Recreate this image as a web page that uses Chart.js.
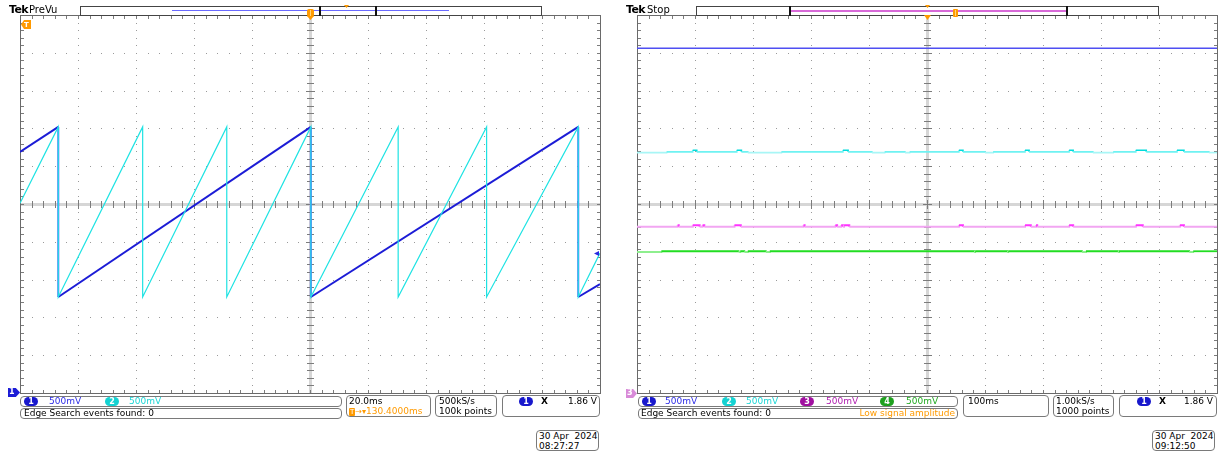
<!DOCTYPE html>
<html>
<head>
<meta charset="utf-8">
<script src="https://cdn.jsdelivr.net/npm/chart.js@4.4.1/dist/chart.umd.min.js"></script>
<style>
  html,body{margin:0;padding:0;background:#fff;}
  body{width:1219px;height:452px;position:relative;overflow:hidden;font-family:"DejaVu Sans",sans-serif;font-size:9px;color:#000;}
  canvas{position:absolute;}
  .box{position:absolute;border:1px solid #7a7a7a;border-radius:4px;box-sizing:border-box;}
  .t{position:absolute;white-space:nowrap;line-height:10px;}
  .pill{position:absolute;border-radius:5px;color:#fff;text-align:center;font-size:8px;line-height:9px;height:9px;width:14px;font-weight:bold;}
  .hl{position:absolute;}
  .tek{position:absolute;font-weight:bold;font-size:11px;letter-spacing:-0.6px;line-height:11px;}
  .mode{position:absolute;font-size:10px;line-height:11px;}
</style>
</head>
<body>
<canvas id="leftScope" width="588" height="386" style="left:16px;top:11px;"></canvas>
<canvas id="rightScope" width="588" height="386" style="left:633px;top:11px;"></canvas>

<script>
// ---------------- DATA ----------------
// Left capture: 20.0 ms/div, 500 mV/div, time in ms, value in V (screen position)
const leftTimeRange = [-100, 100];
const ch1LeftTime = [-100, -86.8, -86.8, 0.3, 0.3, 92.5, 92.5, 100];
const ch1LeftVolt = [0.69, 1.02, -1.23, 1.02, -1.23, 1.02, -1.23, -1.06];
const ch2LeftTime = [-100, -86.8, -86.8, -57.7, -57.7, -28.7, -28.7, 0.3, 0.3, 30.4, 30.4, 60.9, 60.9, 92.5, 92.5, 100];
const ch2LeftVolt = [0.01, 1.02, -1.23, 1.02, -1.23, 1.02, -1.23, 1.02, -1.23, 1.02, -1.23, 1.02, -1.23, 1.02, -1.23, -0.65];

// Right capture: 100 ms/div, 500 mV/div (stepped levels)
const rightTimeRange = [-500, 500];
const ch1RightTime = [-500, 500];
const ch1RightVolt = [2.06, 2.06];
const ch2RightTime = [-500, -449, -404, -397, -328, -320, -309, -251, -145, -136, -95, -73, -38, -30, 55, 62, 100, 114, 169, 176, 245, 252, 286, 321, 360, 378, 431, 443, 486, 500];
const ch2RightVolt = [0.68, 0.69, 0.71, 0.69, 0.71, 0.69, 0.68, 0.69, 0.71, 0.69, 0.68, 0.69, 0.68, 0.69, 0.71, 0.69, 0.68, 0.69, 0.71, 0.69, 0.71, 0.69, 0.68, 0.69, 0.71, 0.69, 0.71, 0.69, 0.68, 0.68];
const ch3RightTime = [-500, -430, -428, -404, -392, -387, -384, -332, -321, -213, -211, -158, -155, -148, -145, -143, -134, 55, 62, 169, 179, 188, 190, 245, 252, 360, 372, 436, 443, 500];
const ch3RightVolt = [-0.30, -0.28, -0.30, -0.28, -0.30, -0.28, -0.30, -0.28, -0.30, -0.28, -0.30, -0.28, -0.30, -0.28, -0.30, -0.28, -0.30, -0.28, -0.30, -0.28, -0.30, -0.28, -0.30, -0.28, -0.30, -0.28, -0.30, -0.28, -0.30, -0.30];
const ch4RightTime = [-500, -458, -325, -322, -315, -309, -278, -271, 81, 83, 138, 140, 267, 274, 329, 331, 452, 459, 500];
const ch4RightVolt = [-0.635, -0.625, -0.635, -0.625, -0.635, -0.625, -0.635, -0.625, -0.635, -0.625, -0.635, -0.625, -0.635, -0.625, -0.635, -0.625, -0.635, -0.625, -0.625];

const voltRange = [-2.5, 2.5];
const PAD = 4;

function pts(xs, ys){ return xs.map((x,i)=>({x:x, y:ys[i]})); }

// ---------------- GRATICULE ----------------
const graticule = {
  id:'graticule',
  beforeDatasetsDraw(chart){
    const ctx = chart.ctx, a = chart.chartArea;
    const L = Math.round(a.left), T = Math.round(a.top);
    const W = Math.round(a.right - a.left), H = Math.round(a.bottom - a.top);
    const dx = W/10, dy = H/10;
    const cx = Math.round(L + W/2), cy = Math.round(T + H/2);
    ctx.save();
    ctx.fillStyle = '#d6d6d6';
    ctx.fillRect(cx-1, T, 3, H);
    ctx.fillRect(L, cy-1, W, 3);
    ctx.fillStyle = '#9a9a9a';
    for (let i=1;i<10;i++){
      if (i===5) continue;
      const x = Math.round(L + i*dx);
      for (let j=1;j<50;j++) ctx.fillRect(x, Math.round(T + j*dy/5), 1, 1);
      const y = Math.round(T + i*dy);
      for (let j=1;j<50;j++) ctx.fillRect(Math.round(L + j*dx/5), y, 1, 1);
    }
    ctx.fillStyle = '#7c7c7c';
    for (let j=1;j<50;j++){
      const x = Math.round(L + j*dx/5), y = Math.round(T + j*dy/5);
      const big = (j%5===0);
      ctx.fillRect(x, cy-(big?4:3), 1, big?9:7);
      ctx.fillRect(cx-(big?4:3), y, big?9:7, 1);
      ctx.fillRect(x, T+1, 1, 3);
      ctx.fillRect(x, T+H-3, 1, 3);
      ctx.fillRect(L+1, y, 3, 1);
      ctx.fillRect(L+W-3, y, 3, 1);
    }
    ctx.strokeStyle = '#6a6a6a';
    ctx.lineWidth = 1;
    ctx.strokeRect(L+0.5, T+0.5, W, H);
    ctx.restore();
  }
};

function makeChart(id, datasets, xr){
  return new Chart(document.getElementById(id), {
    type:'line',
    data:{datasets:datasets},
    options:{
      responsive:false, animation:false, devicePixelRatio:1, events:[],
      layout:{padding:PAD},
      plugins:{legend:{display:false}, tooltip:{enabled:false}},
      scales:{
        x:{type:'linear', min:xr[0], max:xr[1], display:false},
        y:{type:'linear', min:voltRange[0], max:voltRange[1], display:false}
      },
      elements:{point:{radius:0}, line:{tension:0}}
    },
    plugins:[graticule]
  });
}

makeChart('leftScope', [
  { data:pts(ch2LeftTime, ch2LeftVolt), borderColor:'#1ee3e3', borderWidth:1.2 },
  { data:pts(ch1LeftTime, ch1LeftVolt), borderColor:'#1c1cd6', borderWidth:2,
    segment:{ borderColor: c => c.p0.parsed.x === c.p1.parsed.x ? '#6262ff' : undefined } }
], leftTimeRange);

makeChart('rightScope', [
  { data:pts(ch1RightTime, ch1RightVolt), borderColor:'#4f4ff2', borderWidth:1.3 },
  { data:pts(ch2RightTime, ch2RightVolt), borderColor:'#6ff2f2', borderWidth:1.6, stepped:true,
    segment:{ borderColor: c => c.p0.parsed.y > 0.695 ? '#00dcdc' : (c.p0.parsed.y < 0.685 ? '#a8f6f6' : undefined) } },
  { data:pts(ch3RightTime, ch3RightVolt), borderColor:'#f2a6f2', borderWidth:2, stepped:true,
    segment:{ borderColor: c => c.p0.parsed.y > -0.29 ? '#ff33ff' : undefined } },
  { data:pts(ch4RightTime, ch4RightVolt), borderColor:'#22dd22', borderWidth:1.8, stepped:true,
    segment:{ borderColor: c => c.p0.parsed.y < -0.63 ? '#8eef8e' : undefined } }
], rightTimeRange);
</script>

<!-- ============ LEFT SCREEN DECORATION ============ -->
<div class="tek" style="left:9px;top:4px;">Tek</div>
<div class="mode" style="left:29px;top:4px;">PreVu</div>
<div class="hl" style="left:80px;top:6px;width:462px;height:10px;border:1px solid #444;box-sizing:border-box;"></div>
<div class="hl" style="left:172px;top:10px;width:277px;height:1px;background:#6a6aff;"></div>
<div class="hl" style="left:319px;top:6px;width:2px;height:10px;background:#111;"></div>
<div class="hl" style="left:375px;top:6px;width:2px;height:10px;background:#111;"></div>
<div class="hl" style="left:344px;top:5px;width:5px;height:3px;background:#ff9a00;clip-path:polygon(0 0,100% 0,50% 100%);"></div>
<div class="hl" style="left:307px;top:9px;width:7px;height:8px;background:#ff9a00;border-radius:2px;"></div>
<div class="hl" style="left:310px;top:10px;width:1px;height:6px;background:#ffd27a;"></div>
<div class="hl" style="left:307px;top:16px;width:7px;height:4px;background:#ff9a00;clip-path:polygon(0 0,100% 0,50% 100%);"></div>
<!-- trigger level marker -->
<div class="hl" style="left:21px;top:20px;width:10px;height:9px;background:#ff9a00;clip-path:polygon(0 50%,30% 0,100% 0,100% 100%,30% 100%);"></div>
<div class="t" style="left:24px;top:19.5px;color:#fff;font-size:7px;font-weight:bold;">T</div>
<!-- ch1 marker -->
<div class="hl" style="left:8px;top:388px;width:12px;height:9px;background:#1c1cd6;clip-path:polygon(0 0,65% 0,100% 50%,65% 100%,0 100%);"></div>
<div class="t" style="left:9px;top:387px;color:#fff;font-size:8px;font-weight:bold;">1</div>
<!-- out-of-range arrow right edge -->
<div class="hl" style="left:594px;top:251px;width:5px;height:5px;background:#2a2ae0;clip-path:polygon(0 50%,100% 0,100% 100%);"></div>

<div class="box" style="left:20px;top:396px;width:322px;height:11px;"></div>
<div class="pill" style="left:24px;top:397px;background:#1818cc;">1</div>
<div class="t" style="left:49px;top:396px;color:#2d2de6;">500mV</div>
<div class="pill" style="left:105px;top:397px;background:#14d2d2;">2</div>
<div class="t" style="left:129px;top:396px;color:#1ed6d6;">500mV</div>
<div class="box" style="left:20px;top:408px;width:322px;height:11px;"></div>
<div class="t" style="left:24px;top:408px;">Edge Search events found: 0</div>

<div class="box" style="left:346px;top:395px;width:85px;height:22px;"></div>
<div class="t" style="left:349px;top:396px;">20.0ms</div>
<div class="t" style="left:349px;top:406px;color:#ff9a00;"><span style="background:#ff9a00;color:#fff;font-size:7px;padding:0 1px;border-radius:1px;">T</span><span style="font-size:8px;">→▾</span>130.4000ms</div>

<div class="box" style="left:435px;top:395px;width:62px;height:22px;"></div>
<div class="t" style="left:439px;top:396px;">500kS/s</div>
<div class="t" style="left:439px;top:406px;">100k points</div>

<div class="box" style="left:502px;top:395px;width:98px;height:22px;"></div>
<div class="pill" style="left:519px;top:397px;background:#1818cc;">1</div>
<div class="t" style="left:541px;top:396px;font-weight:bold;">Ⅹ</div>
<div class="t" style="left:565px;top:396px;width:32px;text-align:right;">1.86 V</div>

<div class="box" style="left:536px;top:430px;width:63px;height:21px;"></div>
<div class="t" style="left:539px;top:431px;">30 Apr&nbsp; 2024</div>
<div class="t" style="left:539px;top:441px;">08:27:27</div>

<!-- ============ RIGHT SCREEN DECORATION ============ -->
<div class="tek" style="left:626px;top:4px;">Tek</div>
<div class="mode" style="left:647px;top:4px;">Stop</div>
<div class="hl" style="left:696px;top:6px;width:463px;height:10px;border:1px solid #444;box-sizing:border-box;"></div>
<div class="hl" style="left:790px;top:10px;width:277px;height:2px;background:#d86ad8;"></div>
<div class="hl" style="left:789px;top:6px;width:2px;height:10px;background:#111;"></div>
<div class="hl" style="left:1066px;top:6px;width:2px;height:10px;background:#111;"></div>
<div class="hl" style="left:925px;top:5px;width:5px;height:3px;background:#ff9a00;clip-path:polygon(0 0,100% 0,50% 100%);"></div>
<div class="hl" style="left:953px;top:9px;width:5px;height:8px;background:#ff9a00;border-radius:1px;"></div>
<div class="hl" style="left:955px;top:10px;width:1px;height:6px;background:#ffd27a;"></div>
<div class="hl" style="left:924px;top:15px;width:7px;height:5px;background:#ff9a00;clip-path:polygon(0 0,100% 0,50% 100%);"></div>
<!-- ch3 marker -->
<div class="hl" style="left:626px;top:389px;width:11px;height:9px;background:#d88ad8;clip-path:polygon(0 0,65% 0,100% 50%,65% 100%,0 100%);"></div>
<div class="t" style="left:627px;top:388px;color:#fff;font-size:8px;font-weight:bold;">3</div>

<div class="box" style="left:638px;top:396px;width:320px;height:11px;"></div>
<div class="pill" style="left:642px;top:397px;background:#1818cc;">1</div>
<div class="t" style="left:665px;top:396px;color:#2d2de6;">500mV</div>
<div class="pill" style="left:722px;top:397px;background:#14d2d2;">2</div>
<div class="t" style="left:746px;top:396px;color:#1ed6d6;">500mV</div>
<div class="pill" style="left:800px;top:397px;background:#a010a0;">3</div>
<div class="t" style="left:826px;top:396px;color:#b020b0;">500mV</div>
<div class="pill" style="left:880px;top:397px;background:#1ea01e;">4</div>
<div class="t" style="left:906px;top:396px;color:#22aa22;">500mV</div>
<div class="box" style="left:638px;top:408px;width:320px;height:11px;"></div>
<div class="t" style="left:641px;top:408px;">Edge Search events found: 0</div>
<div class="t" style="left:800px;top:408px;width:155px;text-align:right;color:#ff9a00;">Low signal amplitude</div>

<div class="box" style="left:963px;top:395px;width:86px;height:22px;"></div>
<div class="t" style="left:968px;top:396px;">100ms</div>

<div class="box" style="left:1053px;top:395px;width:61px;height:22px;"></div>
<div class="t" style="left:1056px;top:396px;">1.00kS/s</div>
<div class="t" style="left:1056px;top:406px;">1000 points</div>

<div class="box" style="left:1119px;top:395px;width:98px;height:22px;"></div>
<div class="pill" style="left:1137px;top:397px;background:#1818cc;">1</div>
<div class="t" style="left:1159px;top:396px;font-weight:bold;">Ⅹ</div>
<div class="t" style="left:1180px;top:396px;width:33px;text-align:right;">1.86 V</div>

<div class="box" style="left:1152px;top:430px;width:63px;height:21px;"></div>
<div class="t" style="left:1155px;top:431px;">30 Apr&nbsp; 2024</div>
<div class="t" style="left:1155px;top:441px;">09:12:50</div>
</body>
</html>
